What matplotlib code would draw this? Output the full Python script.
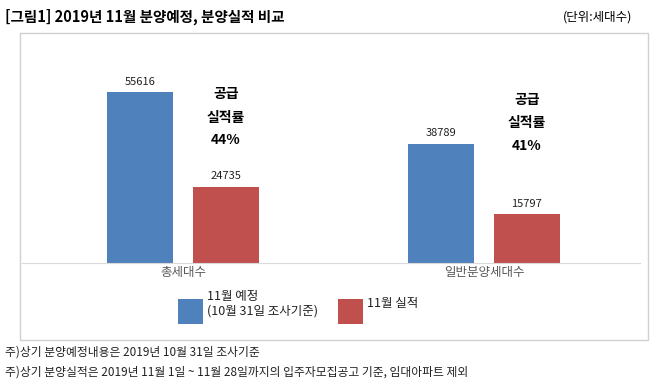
import matplotlib
matplotlib.use('Agg')
import matplotlib.pyplot as plt
from matplotlib.patches import Rectangle

plt.rcParams['font.family'] = ['Noto Sans CJK KR', 'DejaVu Sans']

# Data
categories = ['총세대수', '일반분양세대수']
planned = [55616, 38789]
actual = [24735, 15797]
rates = [44, 41]
series_names = ['11월 예정\n(10월 31일 조사기준)', '11월 실적']
title = '[그림1] 2019년 11월 분양예정, 분양실적 비교'
unit = '(단위:세대수)'
notes = ['주)상기 분양예정내용은 2019년 10월 31일 조사기준',
         '주)상기 분양실적은 2019년 11월 1일 ~ 11월 28일까지의 입주자모집공고 기준, 임대아파트 제외']

W, H = 658, 387
blue = '#4F81BD'
red = '#C0504D'

fig = plt.figure(figsize=(W / 100, H / 100), dpi=100)
fig.patch.set_facecolor('white')


def fx(px):
    return px / W


def fy(py):
    return 1 - py / H


# chart frame
fig.patches.append(Rectangle((fx(20), fy(340)), fx(628), 307 / H, transform=fig.transFigure,
                             fill=False, edgecolor='#D0D0D0', linewidth=1))

ax = fig.add_axes([fx(22), fy(263), fx(618), 215 / H])
x = [0, 1]
w = 0.22
off = 0.142
b1 = ax.bar([i - off for i in x], planned, w, color=blue)
b2 = ax.bar([i + off for i in x], actual, w, color=red)
ax.set_xlim(-0.535, 1.518)
ax.set_ylim(0, 70000)
ax.set_yticks([])
for s in ['top', 'left', 'right']:
    ax.spines[s].set_visible(False)
ax.spines['bottom'].set_color('#D9D9D9')
ax.set_xticks(x, categories)
ax.tick_params(axis='x', length=0, pad=2, labelsize=9, labelcolor='#595959')

for bars in (b1, b2):
    for r in bars:
        ax.annotate(f'{int(r.get_height())}', (r.get_x() + r.get_width() / 2, r.get_height()),
                    xytext=(0, 4), textcoords='offset points', ha='center', va='bottom',
                    fontsize=8, color='#222222')

# supply rate notes
rate_y = [(54960, 47150, 40000), (53000, 45530, 38050)]
for i, r in enumerate(rates):
    xc = i + off
    ax.text(xc, rate_y[i][0], '공급', ha='center', va='center', fontsize=10, fontweight='bold')
    ax.text(xc, rate_y[i][1], '실적률', ha='center', va='center', fontsize=10, fontweight='bold')
    ax.text(xc, rate_y[i][2], f'{r}%', ha='center', va='center', fontsize=10, fontweight='bold')

# legend
fig.patches.append(Rectangle((fx(178), fy(324)), fx(25), 25 / H, transform=fig.transFigure,
                             facecolor=blue, edgecolor='none'))
fig.text(fx(207), fy(304), series_names[0], ha='left', va='center', fontsize=9,
         color='#222222', linespacing=1.15)
fig.patches.append(Rectangle((fx(338), fy(324)), fx(25), 25 / H, transform=fig.transFigure,
                             facecolor=red, edgecolor='none'))
fig.text(fx(367), fy(303), series_names[1], ha='left', va='center', fontsize=9, color='#222222')

# title and notes
fig.text(fx(5), fy(17), title, ha='left', va='center', fontsize=10.5, fontweight='bold')
fig.text(fx(632), fy(17), unit, ha='right', va='center', fontsize=9)
fig.text(fx(5), fy(352), notes[0], ha='left', va='center', fontsize=8.5, color='#222222')
fig.text(fx(5), fy(372), notes[1], ha='left', va='center', fontsize=8.5, color='#222222')

fig.savefig('out.png', dpi=100)
